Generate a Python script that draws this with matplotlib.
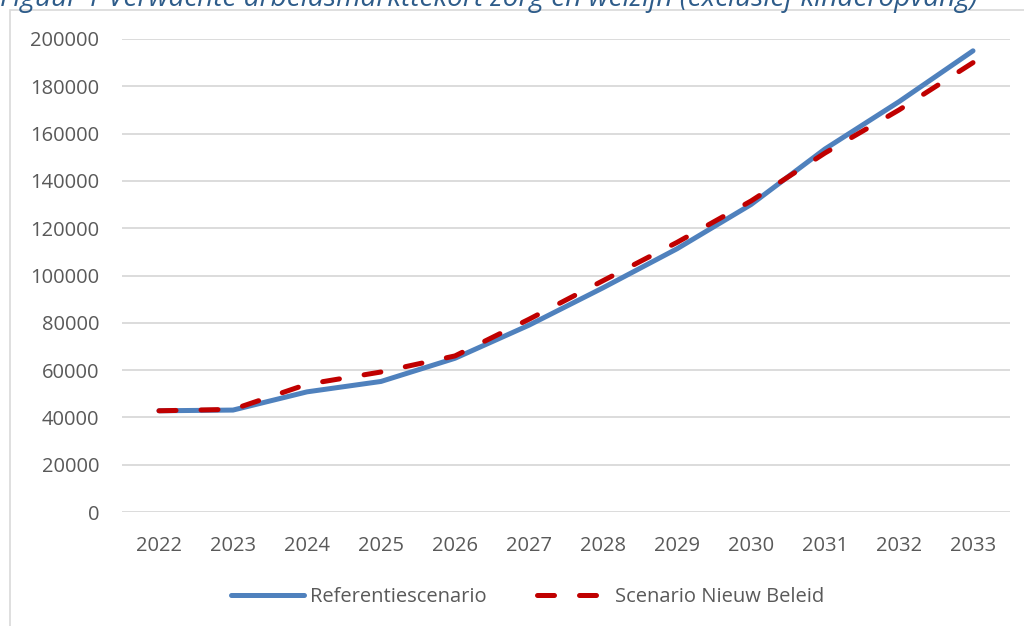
import matplotlib.pyplot as plt
from matplotlib.patches import Rectangle

# Verwachte arbeidsmarkttekort zorg en welzijn, per jaar
years = ["2022", "2023", "2024", "2025", "2026", "2027",
         "2028", "2029", "2030", "2031", "2032", "2033"]
referentie = [42800, 43100, 50800, 55200, 65000, 79000,
              94800, 111300, 130000, 153500, 173500, 195000]
nieuw_beleid = [42800, 43400, 54000, 59200, 66000, 81500,
                97800, 114000, 131500, 151800, 170000, 190000]
yticks = list(range(0, 200001, 20000))

title = "Figuur 1 Verwachte arbeidsmarkttekort zorg en welzijn (exclusief kinderopvang)"

W, H = 1024, 626
fig = plt.figure(figsize=(W / 100, H / 100), dpi=100)
plt.rcParams["font.family"] = ["Open Sans", "DejaVu Sans"]

# chart frame (runs off the right and bottom edge)
fig.patches.append(Rectangle((10 / W, 0 - 0.05), 1.2, 1 - 10 / H + 0.05,
                             transform=fig.transFigure, fill=False,
                             edgecolor="#D9D9D9", linewidth=1.2))

# title sits partly above the top edge, as in the source
fig.text(0.0, 1 - 6 / H, title, ha="left", va="baseline", fontsize=20.2,
         style="italic", color="#2E5C8A")

left, right = 122 / W, 1010 / W
top, bottom = 1 - 39 / H, 1 - 512 / H
ax = fig.add_axes([left, bottom, right - left, top - bottom])

x = list(range(len(years)))
ax.plot(x, referentie, color="#4F81BD", linewidth=3.6,
        solid_capstyle="round", solid_joinstyle="round",
        label="Referentiescenario", zorder=3)
ax.plot(x, nieuw_beleid, color="#C00000", linewidth=3.6,
        linestyle=(0, (3.4, 5.0)), dash_capstyle="round",
        label="Scenario Nieuw Beleid", zorder=4)

ax.set_xlim(-0.5, len(years) - 0.5)
ax.set_ylim(0, 200000)
ax.set_yticks(yticks)
ax.set_yticklabels([str(v) for v in yticks])
ax.set_xticks(x)
ax.set_xticklabels(years)
ax.grid(axis="y", color="#D9D9D9", linewidth=1.3)
ax.set_axisbelow(True)
for s in ax.spines.values():
    s.set_visible(False)
ax.tick_params(axis="both", length=0, labelsize=14.5, colors="#595959")
ax.tick_params(axis="y", pad=16.5)
ax.tick_params(axis="x", pad=17)

leg = fig.legend(loc="center", bbox_to_anchor=(528 / W, 1 - 597 / H),
                 ncol=2, frameon=False, fontsize=14.5, handlelength=3.6,
                 handletextpad=0.3, columnspacing=2.5)
for t in leg.get_texts():
    t.set_color("#595959")

fig.savefig("out.png", dpi=100)
